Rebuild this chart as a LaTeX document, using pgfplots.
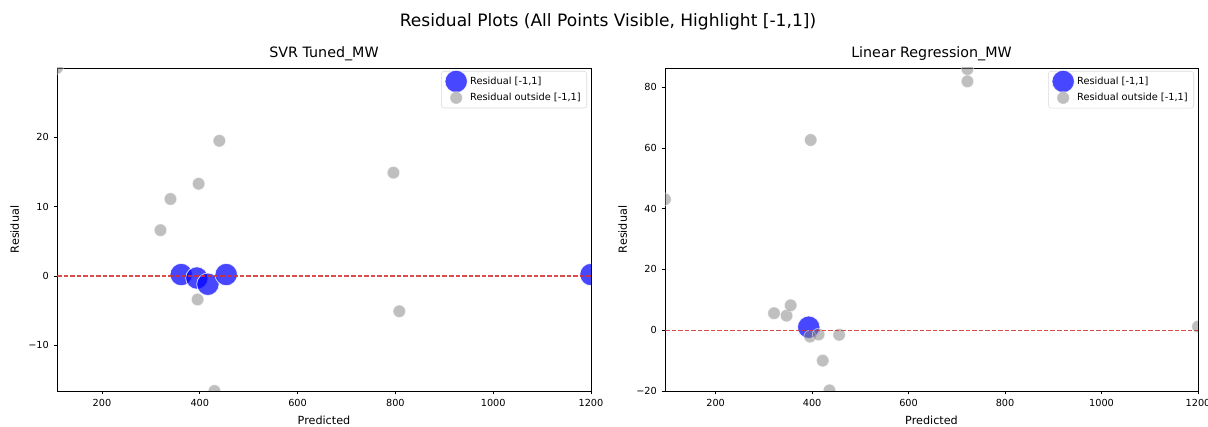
\documentclass[border=0pt]{standalone}
\usepackage{pgfplots}
\pgfplotsset{compat=1.18}
\usepackage{fontspec}
\setmainfont{DejaVu Sans}
\definecolor{refred}{RGB}{215,45,45}
\definecolor{ptblue}{RGB}{0,0,255}
\definecolor{ptgray}{RGB}{128,128,128}
\pgfplotsset{
  resax/.style={
    scale only axis,
    width=400.5pt, height=242.25pt,
    anchor=south west,
    clip marker paths=true,
    axis line style={black, line width=0.6pt},
    tick style={black, line width=0.6pt},
    tick align=outside,
    major tick length=2.6pt,
    xtick pos=bottom, ytick pos=left,
    tick label style={font=\fontsize{7.3}{8.5}\selectfont},
    label style={font=\fontsize{8.4}{10}\selectfont},
    /pgf/number format/assume math mode=true,
    xtick={200,400,600,800,1000,1200},
    xticklabels={200,400,600,800,1000,1200},
    xlabel={Predicted},
    ylabel={Residual},
    title style={font=\fontsize{10.7}{12.5}\selectfont, at={(0.5,1)}, anchor=base, yshift=1.65pt},
    legend cell align=left,
    legend image code/.code={%
      \draw[##1, overlay, only marks] plot coordinates {(0.3cm,0cm)};
      \path[draw=none, fill=none] (0cm,-2pt) rectangle (0.6cm,2pt);},
    legend style={at={(1,1)}, anchor=north east, xshift=-3pt, yshift=-2.25pt,
      font=\fontsize{7.35}{8.5}\selectfont, draw=black!15, rounded corners=2pt,
      fill=white, fill opacity=0.8, text opacity=1, inner sep=2.5pt,
      nodes={inner ysep=1.6pt, inner xsep=2pt},
      row sep=2pt},
  },
  inset/.style={only marks, mark=*, mark size=8.4pt,
    mark options={fill=ptblue, fill opacity=0.72, draw=white, draw opacity=0.8, line width=0.6pt}},
  outset/.style={only marks, mark=*, mark size=4.7pt,
    mark options={fill=ptgray, fill opacity=0.5, draw=white, draw opacity=0.5, line width=0.6pt}},
  zeroline/.style={refred, line width=0.9pt, dash pattern=on 3.4pt off 1.5pt, opacity=0.85},
}
\begin{document}
\begin{tikzpicture}
\path[use as bounding box] (0,0) rectangle (906pt,320.25pt);
\node[anchor=base, font=\fontsize{12.8}{15}\selectfont] at (456pt,300.5pt)
  {Residual Plots (All Points Visible, Highlight [-1,1])};

% Left: SVR Tuned_MW
\begin{axis}[resax, at={(42.75pt,27pt)},
  xmin=108, xmax=1200, ymin=-16.6, ymax=30,
  ytick={-10,0,10,20}, yticklabels={−10,0,10,20},
  title={SVR Tuned\_MW},
]
\addplot[inset] coordinates {
  (362,0.2) (394,-0.3) (416.6,-1.2) (454,0.2) (1200,0.2)
};
\addlegendentry{Residual [-1,1]}
\addplot[outset] coordinates {
  (108,30) (440,19.5) (397.6,13.3) (340,11.1) (319.6,6.6)
  (395.5,-3.4) (430,-16.6) (796,14.9) (808,-5.1)
};
\addlegendentry{Residual outside [-1,1]}
\addplot[zeroline, forget plot] coordinates {(108,0) (1200,0)};
\end{axis}

% Right: Linear Regression_MW
\begin{axis}[resax, at={(498.75pt,27pt)}, width=399.75pt,
  xmin=95, xmax=1200, ymin=-20, ymax=86.3,
  ytick={-20,0,20,40,60,80}, yticklabels={−20,0,20,40,60,80},
  title={Linear Regression\_MW},
]
\addplot[inset] coordinates {
  (393,1.0)
};
\addlegendentry{Residual [-1,1]}
\addplot[outset] coordinates {
  (95,43.1) (397,62.6) (722,85.9) (722,81.9) (321,5.6) (347,4.8) (355.5,8.2)
  (395.7,-2.1) (413.5,-1.4) (456,-1.5) (422,-10) (436,-19.8) (1200,1.2)
};
\addlegendentry{Residual outside [-1,1]}
\addplot[zeroline, forget plot] coordinates {(95,0) (1200,0)};
\end{axis}
\end{tikzpicture}
\end{document}
